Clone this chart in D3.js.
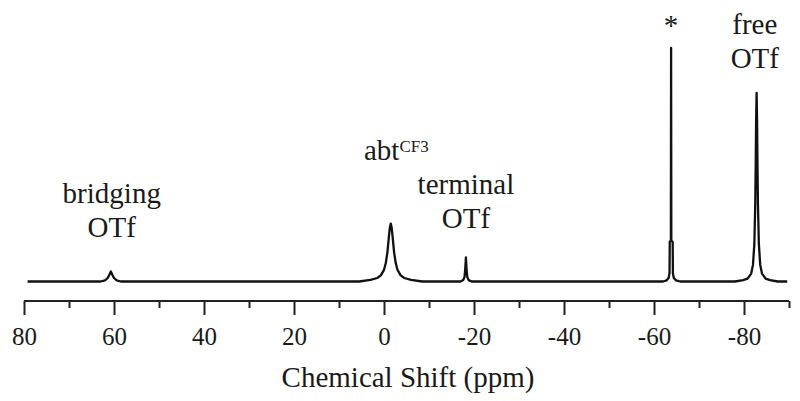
<!DOCTYPE html>
<html>
<head>
<meta charset="utf-8">
<script src="https://cdn.jsdelivr.net/npm/d3@7"></script>
<style>
  html, body { margin: 0; padding: 0; background: #fff; }
  svg { display: block; }
</style>
</head>
<body>
<svg id="chart" width="800" height="401"></svg>
<script>
// ---- Data ----
const shiftPpm = [
  79.2, 63.0, 62.0, 61.4, 61.0, 60.7, 60.4, 60.0, 59.4, 58.5,
  5.5, 3.0, 1.5, 0.7, 0.0, -0.4, -0.75, -1.1, -1.3, -1.5, -1.7, -1.9, -2.25, -2.6, -3.0, -3.7, -4.5, -6.0, -8.5,
  -17.0, -17.6, -17.9, -18.05, -18.2, -18.35, -18.5, -18.8, -19.5,
  -62.0, -62.8, -63.25, -63.45, -63.5, -63.75, -63.8, -63.85, -64.15, -64.2, -64.4, -64.9, -65.8,
  -78.0, -79.8, -80.8, -81.6, -82.0, -82.3, -82.5, -82.6, -82.7, -82.8, -82.9, -83.0, -83.1, -83.3, -83.6, -84.0, -84.8, -85.8, -87.5, -89.6
];
const intensity = [
  0, 0, 0.5, 1.5, 3.0, 4.3, 3.0, 1.5, 0.5, 0,
  0, 0.7, 1.5, 2.6, 5.0, 7.9, 12.4, 19.4, 23.1, 24.8, 23.1, 19.4, 12.4, 7.9, 5.0, 2.6, 1.5, 0.7, 0,
  0, 0.6, 2.0, 5.2, 10.3, 5.2, 2.0, 0.6, 0,
  0, 0.5, 1.5, 3.5, 17.0, 17.5, 100, 17.5, 17.0, 3.5, 1.5, 0.5, 0,
  0, 0.56, 1.24, 3.4, 7.2, 16.2, 33.1, 49.3, 69.7, 80.8, 69.7, 49.3, 33.1, 16.2, 7.2, 3.4, 1.24, 0.56, 0, 0
];
const majorTicks = [80, 60, 40, 20, 0, -20, -40, -60, -80];
const minorTicks = [70, 50, 30, 10, -10, -30, -50, -70, -90];
const xDomain = [80, -90];
const yDomain = [0, 100];
const axisTitle = "Chemical Shift (ppm)";
const peakLabels = [
  { lines: ["bridging", "OTf"], ppm: 60.5, level: 33.5 },
  { lines: ["terminal", "OTf"], ppm: -18.2, level: 37.5 },
  { lines: ["free", "OTf"], ppm: -82.4, level: 106 },
  { lines: ["*"], ppm: -63.8, level: 105.5 }
];

// ---- Layout ----
const FONT = "Liberation Serif";
const INK = "#1a1a1a";
const svg = d3.select("#chart");
const x = d3.scaleLinear().domain(xDomain).range([24, 789]);
const y = d3.scaleLinear().domain(yDomain).range([281.5, 48]);
const axisY = 301;

const points = shiftPpm.map((p, i) => ({ p, v: intensity[i] }));

svg.append("path")
  .datum(points)
  .attr("fill", "none")
  .attr("stroke", "#111")
  .attr("stroke-width", 2.3)
  .attr("stroke-linejoin", "round")
  .attr("d", d3.line().x(d => x(d.p)).y(d => y(d.v)));

// axes
const gMinor = svg.append("g").attr("transform", `translate(0,${axisY})`)
  .call(d3.axisBottom(x).tickValues(minorTicks).tickSize(7).tickSizeOuter(0).tickFormat(""));
const gMajor = svg.append("g").attr("transform", `translate(0,${axisY})`)
  .call(d3.axisBottom(x).tickValues(majorTicks).tickSize(14).tickSizeOuter(0).tickPadding(12)
    .tickFormat(d => String(d)));
[gMinor, gMajor].forEach(g => {
  g.attr("font-family", FONT).attr("font-size", 25);
  g.selectAll("path.domain").attr("stroke", "#222").attr("stroke-width", 2);
  g.selectAll(".tick line").attr("stroke", "#222").attr("stroke-width", 2);
});
gMinor.select("path.domain").attr("d", `M${x(80)},0H${x(-90)}`);
gMajor.select("path.domain").remove();
gMajor.selectAll(".tick text")
  .attr("font-family", FONT).attr("font-size", 25).attr("fill", INK);

svg.append("text")
  .attr("x", 408).attr("y", 387)
  .attr("text-anchor", "middle")
  .attr("font-family", FONT).attr("font-size", 29).attr("fill", INK)
  .text(axisTitle);

// peak labels
peakLabels.forEach(l => {
  const t = svg.append("text")
    .attr("text-anchor", "middle")
    .attr("font-family", FONT).attr("font-size", 29).attr("fill", INK);
  l.lines.forEach((s, i) => {
    t.append("tspan")
      .attr("x", x(l.ppm))
      .attr("y", y(l.level) + i * 34)
      .text(s);
  });
});

// abt^CF3 label
const abt = svg.append("text").attr("x", 364).attr("y", 160)
  .attr("font-family", FONT).attr("font-size", 29).attr("fill", INK);
abt.append("tspan").text("abt");
abt.append("tspan").attr("dy", -8).attr("font-size", 17).text("CF3");
</script>
</body>
</html>
